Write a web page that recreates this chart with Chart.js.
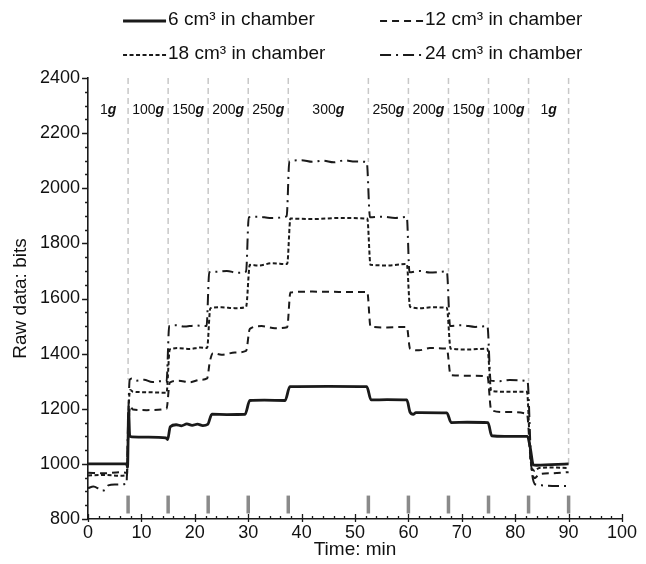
<!DOCTYPE html>
<html>
<head>
<meta charset="utf-8">
<script src="https://cdn.jsdelivr.net/npm/chart.js@4.4.1/dist/chart.umd.min.js"></script>
<style>
html, body { margin: 0; padding: 0; background: #fff; }
</style>
</head>
<body>
<canvas id="myChart" width="646" height="564"></canvas>
<script>
// load steps between the grey marks (grams)
var loadTimes = [0, 7.5, 15, 22.5, 30, 37.5, 52.5, 60, 67.5, 75, 82.5, 90];
var loadLabels = ['1', '100', '150', '200', '250', '300', '250', '200', '150', '100', '1'];

// 6 cm3
var t6 = [0, 7.2, 7.4, 7.6, 7.8, 8.2, 11, 14.6, 14.9, 15.4, 16.5, 17.5, 18.5, 19.5, 20.5, 21.5, 22.4, 23.2, 26, 29.4, 30.3, 33, 36.9, 37.8, 45, 52.2, 53.0, 56, 59.7, 60.3, 60.9, 61.4, 62.2, 67.2, 68.0, 71, 74.9, 75.6, 78, 82.3, 82.8, 83.4, 84, 90];
var v6 = [1000, 1000, 988, 1190, 1102, 1098, 1097, 1094, 1088, 1135, 1142, 1138, 1145, 1140, 1144, 1139, 1143, 1180, 1179, 1180, 1230, 1231, 1230, 1280, 1281, 1280, 1232, 1233, 1232, 1188, 1180, 1186, 1186, 1185, 1150, 1151, 1150, 1102, 1100, 1100, 1060, 996, 995, 1000];

// 12 cm3
var t12 = [0, 3, 6, 7.3, 7.6, 7.9, 8.4, 11, 14.7, 15.3, 17, 19, 21, 22.3, 22.8, 23.4, 25, 27.5, 29.6, 30.3, 32.5, 35, 37.3, 37.9, 42, 47, 52.3, 52.9, 56, 59.7, 60.3, 62, 64, 67.2, 67.9, 71, 74.8, 75.5, 78, 82.2, 82.9, 83.6, 84.5, 87, 90];
var v12 = [968, 966, 970, 968, 1140, 1210, 1197, 1195, 1200, 1295, 1302, 1296, 1305, 1310, 1370, 1402, 1396, 1404, 1410, 1490, 1500, 1492, 1496, 1622, 1625, 1624, 1624, 1498, 1495, 1497, 1418, 1412, 1420, 1418, 1322, 1320, 1318, 1195, 1188, 1182, 1010, 948, 962, 966, 970];

// 18 cm3
var t18 = [0, 3, 6, 7.3, 7.6, 7.9, 8.4, 11, 14.7, 15.3, 17, 19, 21, 22.3, 22.9, 25, 27.5, 29.6, 30.3, 32, 34.5, 37.3, 37.9, 42, 47, 52.3, 52.9, 56, 59.7, 60.3, 62, 64.5, 67.2, 67.9, 71, 74.8, 75.5, 78, 82.2, 82.9, 83.6, 84.5, 87, 90];
var v18 = [958, 960, 957, 960, 1200, 1268, 1262, 1260, 1258, 1415, 1420, 1417, 1422, 1420, 1565, 1568, 1565, 1570, 1722, 1720, 1728, 1725, 1890, 1888, 1892, 1890, 1722, 1720, 1725, 1570, 1565, 1568, 1566, 1418, 1415, 1418, 1265, 1262, 1262, 1010, 975, 985, 987, 985];

// 24 cm3
var t24 = [0, 1, 2, 2.6, 3.2, 3.8, 5, 7.2, 7.5, 7.8, 8.2, 9, 10.5, 12, 13.5, 14.7, 15.2, 16.5, 18, 20, 22.2, 22.7, 24, 26, 28, 29.6, 30.1, 32, 34, 37.2, 37.7, 40, 42, 44, 46, 48, 50, 52.2, 52.8, 55, 57.5, 59.7, 60.2, 62, 64, 67.2, 67.8, 70, 72.5, 74.8, 75.4, 77, 79, 82.3, 83.0, 83.8, 85, 87.5, 90];
var v24 = [912, 918, 910, 903, 906, 922, 925, 928, 1150, 1305, 1310, 1302, 1305, 1297, 1300, 1298, 1500, 1503, 1498, 1502, 1500, 1695, 1697, 1700, 1693, 1698, 1895, 1897, 1892, 1898, 2097, 2102, 2096, 2100, 2094, 2101, 2097, 2095, 1895, 1897, 1892, 1896, 1695, 1700, 1694, 1698, 1500, 1503, 1497, 1500, 1302, 1300, 1304, 1300, 1000, 925, 922, 920, 920];

function pts(t, v) {
    return t.map(function (x, i) { return {x: x, y: v[i]}; });
}

var FONT = '"Liberation Sans", Arial, sans-serif';

var extras = {
    id: 'extras',
    beforeDatasetsDraw: function (chart) {
        var ctx = chart.ctx, xs = chart.scales.x, ys = chart.scales.y, area = chart.chartArea;
        ctx.save();
        ctx.strokeStyle = '#c8c8c8';
        ctx.lineWidth = 1.5;
        ctx.setLineDash([6, 4]);
        loadTimes.slice(1).forEach(function (t) {
            // dashed mark runs down to the highest curve at that time
            var top = ys.min;
            chart.data.datasets.forEach(function (ds) {
                ds.data.forEach(function (p) {
                    if (Math.abs(p.x - t) <= 0.6 && p.y > top) top = p.y;
                });
            });
            var px = xs.getPixelForValue(t);
            ctx.beginPath();
            ctx.moveTo(px, area.top);
            ctx.lineTo(px, ys.getPixelForValue(top));
            ctx.stroke();
        });
        ctx.restore();
    },
    afterDatasetsDraw: function (chart) {
        var ctx = chart.ctx, xs = chart.scales.x, ys = chart.scales.y, area = chart.chartArea;
        ctx.save();

        // grey marks at the bottom
        ctx.strokeStyle = '#8a8a8a';
        ctx.lineWidth = 3.5;
        loadTimes.slice(1).forEach(function (t) {
            var px = xs.getPixelForValue(t);
            ctx.beginPath();
            ctx.moveTo(px, ys.getPixelForValue(820));
            ctx.lineTo(px, ys.getPixelForValue(885));
            ctx.stroke();
        });

        // load labels, "g" in bold italic
        ctx.fillStyle = '#111';
        ctx.textBaseline = 'middle';
        var ly = area.top + 32;
        loadLabels.forEach(function (lab, i) {
            var cx = xs.getPixelForValue((loadTimes[i] + loadTimes[i + 1]) / 2);
            ctx.font = '14px ' + FONT;
            var w1 = ctx.measureText(lab).width;
            ctx.font = 'italic bold 14px ' + FONT;
            var w2 = ctx.measureText('g').width;
            var x0 = cx - (w1 + w2) / 2;
            ctx.font = '14px ' + FONT;
            ctx.fillText(lab, x0, ly);
            ctx.font = 'italic bold 14px ' + FONT;
            ctx.fillText('g', x0 + w1, ly);
        });

        // axis ticks, major and minor
        ctx.strokeStyle = '#1a1a1a';
        ctx.lineWidth = 1.3;
        ctx.beginPath();
        for (var v = 0; v <= 100; v += 2) {
            var px = Math.round(xs.getPixelForValue(v)) + 0.5;
            if (v % 10 === 0) {
                ctx.moveTo(px, area.bottom - 5);
                ctx.lineTo(px, area.bottom + 3);
            } else {
                ctx.moveTo(px, area.bottom - 3);
                ctx.lineTo(px, area.bottom);
            }
        }
        for (var y = 800; y <= 2400; y += 50) {
            var py = Math.round(ys.getPixelForValue(y)) + 0.5;
            ctx.moveTo(area.left - (y % 200 === 0 ? 6 : 3), py);
            ctx.lineTo(area.left, py);
        }
        ctx.stroke();
        ctx.restore();
    },
    afterDraw: function (chart) {
        // legend in two columns over the plot
        var ctx = chart.ctx, area = chart.chartArea;
        var cols = [area.left + 35, area.left + 292];
        var rows = [20, 54];
        ctx.save();
        ctx.font = '19px ' + FONT;
        ctx.fillStyle = '#111';
        ctx.textBaseline = 'middle';
        chart.data.datasets.forEach(function (ds, i) {
            var x = cols[i % 2], y = rows[Math.floor(i / 2)];
            ctx.strokeStyle = ds.borderColor;
            ctx.lineWidth = ds.borderWidth;
            ctx.setLineDash(ds.borderDash || []);
            ctx.beginPath();
            ctx.moveTo(x, y + 1);
            ctx.lineTo(x + 43, y + 1);
            ctx.stroke();
            ctx.fillText(ds.label, x + 45, y);
        });
        ctx.restore();
    }
};

var tickFont = { family: FONT, size: 18, lineHeight: 1 };
var titleFont = { family: FONT, size: 19, lineHeight: 1 };

var ctx = document.getElementById('myChart').getContext('2d');
var myChart = new Chart(ctx, {
    type: 'line',
    data: {
        datasets: [{
            label: '6 cm³ in chamber',
            data: pts(t6, v6),
            borderColor: '#1a1a1a',
            borderWidth: 2.8,
            borderDash: []
        }, {
            label: '12 cm³ in chamber',
            data: pts(t12, v12),
            borderColor: '#1a1a1a',
            borderWidth: 2,
            borderDash: [7, 5]
        }, {
            label: '18 cm³ in chamber',
            data: pts(t18, v18),
            borderColor: '#1a1a1a',
            borderWidth: 2,
            borderDash: [4, 2.5]
        }, {
            label: '24 cm³ in chamber',
            data: pts(t24, v24),
            borderColor: '#1a1a1a',
            borderWidth: 2,
            borderDash: [11, 5, 2, 5]
        }]
    },
    options: {
        responsive: false,
        animation: false,
        devicePixelRatio: 1,
        parsing: false,
        elements: {
            point: { radius: 0 },
            line: { cubicInterpolationMode: 'monotone', fill: false }
        },
        layout: { padding: { top: 78, right: 24, left: 4, bottom: 3 } },
        plugins: {
            legend: { display: false },
            tooltip: { enabled: false }
        },
        scales: {
            x: {
                type: 'linear',
                min: 0,
                max: 100,
                grid: { display: false, drawTicks: false },
                border: { color: '#1a1a1a', width: 1.6 },
                ticks: {
                    stepSize: 10,
                    padding: 5,
                    color: '#111',
                    maxRotation: 0,
                    font: tickFont
                },
                title: {
                    display: true,
                    text: 'Time: min',
                    color: '#111',
                    padding: { top: -7, bottom: 2 },
                    font: titleFont
                }
            },
            y: {
                min: 800,
                max: 2400,
                grid: { display: false, drawTicks: false },
                border: { color: '#1a1a1a', width: 1.6 },
                ticks: {
                    stepSize: 200,
                    padding: 8,
                    color: '#111',
                    font: tickFont,
                    callback: function (value) { return String(value); }
                },
                title: {
                    display: true,
                    text: 'Raw data: bits',
                    color: '#111',
                    padding: { top: 7, bottom: 2 },
                    font: titleFont
                }
            }
        }
    },
    plugins: [extras]
});
</script>
</body>
</html>
